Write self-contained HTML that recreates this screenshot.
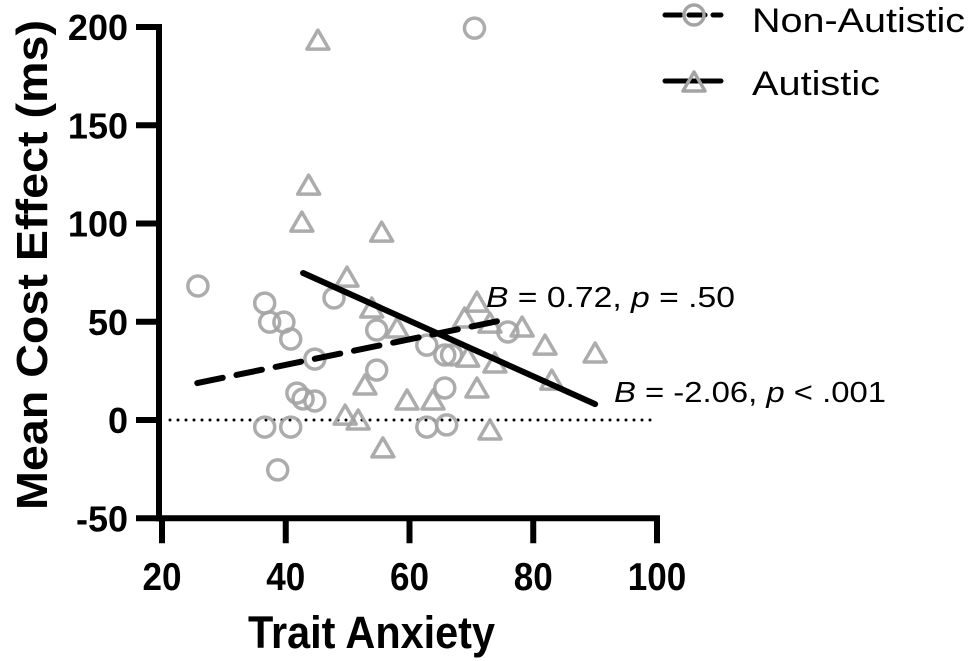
<!DOCTYPE html>
<html><head><meta charset="utf-8"><style>
body{margin:0;background:#fff}
svg{display:block;font-family:"Liberation Sans",Arial,sans-serif}
</style></head><body>
<svg id="chart" width="969" height="661" viewBox="0 0 969 661">
<g id="plot"></g>
<g id="axes"></g>
<text x="0" y="0" transform="translate(47 265) rotate(-90)" text-anchor="middle" font-size="44" font-weight="bold" textLength="490" lengthAdjust="spacingAndGlyphs">Mean Cost Effect (ms)</text>
<text x="248" y="648" font-size="45" font-weight="bold" textLength="247" lengthAdjust="spacingAndGlyphs">Trait Anxiety</text>
<g>
 <g>
  <line x1="665" y1="15" x2="721" y2="15" stroke="#000" stroke-width="5" stroke-linecap="round" stroke-dasharray="16 8"/>
  <circle cx="694" cy="15" r="10" fill="none" stroke="#a3a3a3" stroke-width="3.5"/>
  <text x="752" y="32" font-size="34" textLength="213" lengthAdjust="spacingAndGlyphs">Non-Autistic</text>
 </g>
 <g>
  <line x1="665" y1="81" x2="721" y2="81" stroke="#000" stroke-width="5" stroke-linecap="round"/>
  <path d="M694 72 L705 91 L683 91 Z" fill="none" stroke="#a3a3a3" stroke-width="3.5" stroke-linejoin="round"/>
  <text x="752" y="95" font-size="34" textLength="128" lengthAdjust="spacingAndGlyphs">Autistic</text>
 </g>
</g>
<text x="486" y="307" font-size="29" textLength="249" lengthAdjust="spacingAndGlyphs"><tspan font-style="italic">B</tspan> = 0.72, <tspan font-style="italic">p</tspan> = .50</text>
<text x="614" y="402" font-size="29" textLength="272" lengthAdjust="spacingAndGlyphs"><tspan font-style="italic">B</tspan> = -2.06, <tspan font-style="italic">p</tspan> &lt; .001</text>
</svg>
<script>
const xTicks=[20,40,60,80,100];
const yTicks=[-50,0,50,100,150,200];
const nonAutX=[25.8,36.6,37.4,39.7,40.8,44.7,41.8,42.8,44.7,36.6,40.8,38.7,47.8,54.7,54.7,62.8,65.7,66.8,65.7,62.8,66.0,75.9,70.5];
const nonAutY=[68.2,59.5,49.8,49.8,41.2,31.0,13.7,10.7,9.7,-3.6,-3.6,-25.4,62.1,45.8,25.4,38.1,33.1,33.1,16.3,-3.6,-2.5,44.8,199.4];
const autX=[45.2,43.7,42.6,55.5,49.9,53.9,58.0,52.8,59.6,49.6,51.7,55.7,70.9,68.9,73.0,78.2,81.9,90.0,69.4,73.8,83.0,70.9,63.8,73.0];
const autY=[193.3,119.5,100.7,95.6,72.7,57.0,46.8,17.8,10.2,2.5,0,-14.2,60.0,51.9,49.3,47.3,38.1,34.1,32.0,29.0,20.3,16.3,10.2,-5.1];
const nonAutFitX=[25.7,75.9];
const nonAutFitY=[18.8,51.4];
const autFitX=[42.8,90.0];
const autFitY=[74.8,8.1];

const NS="http://www.w3.org/2000/svg";
const X=v=>162+(v-20)*495/80;
const Y=v=>420-v*393/200;
const plot=document.getElementById('plot'),axes=document.getElementById('axes');
function mk(tag,attrs,parent){const e=document.createElementNS(NS,tag);for(const k in attrs)e.setAttribute(k,attrs[k]);parent.appendChild(e);return e;}

let z=mk('line',{x1:X(20)+8,x2:X(100),y1:Y(0),y2:Y(0),stroke:'#000','stroke-width':3,'stroke-dasharray':'0 8','stroke-linecap':'round'},plot);



nonAutX.forEach((v,i)=>{
 const c=mk('circle',{cx:X(v),cy:Y(nonAutY[i]),r:10,fill:'none',stroke:'#a3a3a3','stroke-width':3.5,opacity:0.9},plot);
 
 
});
autX.forEach((v,i)=>{
 const cx=X(v),cy=Y(autY[i]);
 const t=mk('path',{d:`M${cx} ${cy-10} L${cx+11} ${cy+9} L${cx-11} ${cy+9} Z`,fill:'none',stroke:'#a3a3a3','stroke-width':3.5,'stroke-linejoin':'round',opacity:0.9},plot);
 
 
});
let l1=mk('line',{x1:X(nonAutFitX[0]),y1:Y(nonAutFitY[0]),x2:X(nonAutFitX[1]),y2:Y(nonAutFitY[1]),stroke:'#000','stroke-width':6,'stroke-dasharray':'26 14','stroke-linecap':'round'},plot);


let l2=mk('line',{x1:X(autFitX[0]),y1:Y(autFitY[0]),x2:X(autFitX[1]),y2:Y(autFitY[1]),stroke:'#000','stroke-width':6,'stroke-linecap':'round'},plot);



let ya=mk('line',{x1:159,x2:159,y1:Y(200)-3,y2:Y(-50)+3,stroke:'#000','stroke-width':6},axes);


let xa=mk('line',{x1:156,x2:X(100)+3,y1:Y(-50),y2:Y(-50),stroke:'#000','stroke-width':6},axes);


yTicks.forEach(v=>{
 const tk=mk('line',{x1:136,x2:160,y1:Y(v),y2:Y(v),stroke:'#000','stroke-width':6},axes);
 
 
 const t=mk('text',{x:128,y:Y(v)+13,'text-anchor':'end','font-size':36,'font-weight':'bold'},axes);
 t.textContent=v;
 
 
});
xTicks.forEach(v=>{
 const tk=mk('line',{x1:X(v),x2:X(v),y1:Y(-50),y2:Y(-50)+25,stroke:'#000','stroke-width':6},axes);
 
 
 const t=mk('text',{x:X(v),y:590,'text-anchor':'middle','font-size':39,'font-weight':'bold',textLength:String(v).length*19.5,lengthAdjust:'spacingAndGlyphs'},axes);
 t.textContent=v;
 
 
});
</script>
</body></html>
